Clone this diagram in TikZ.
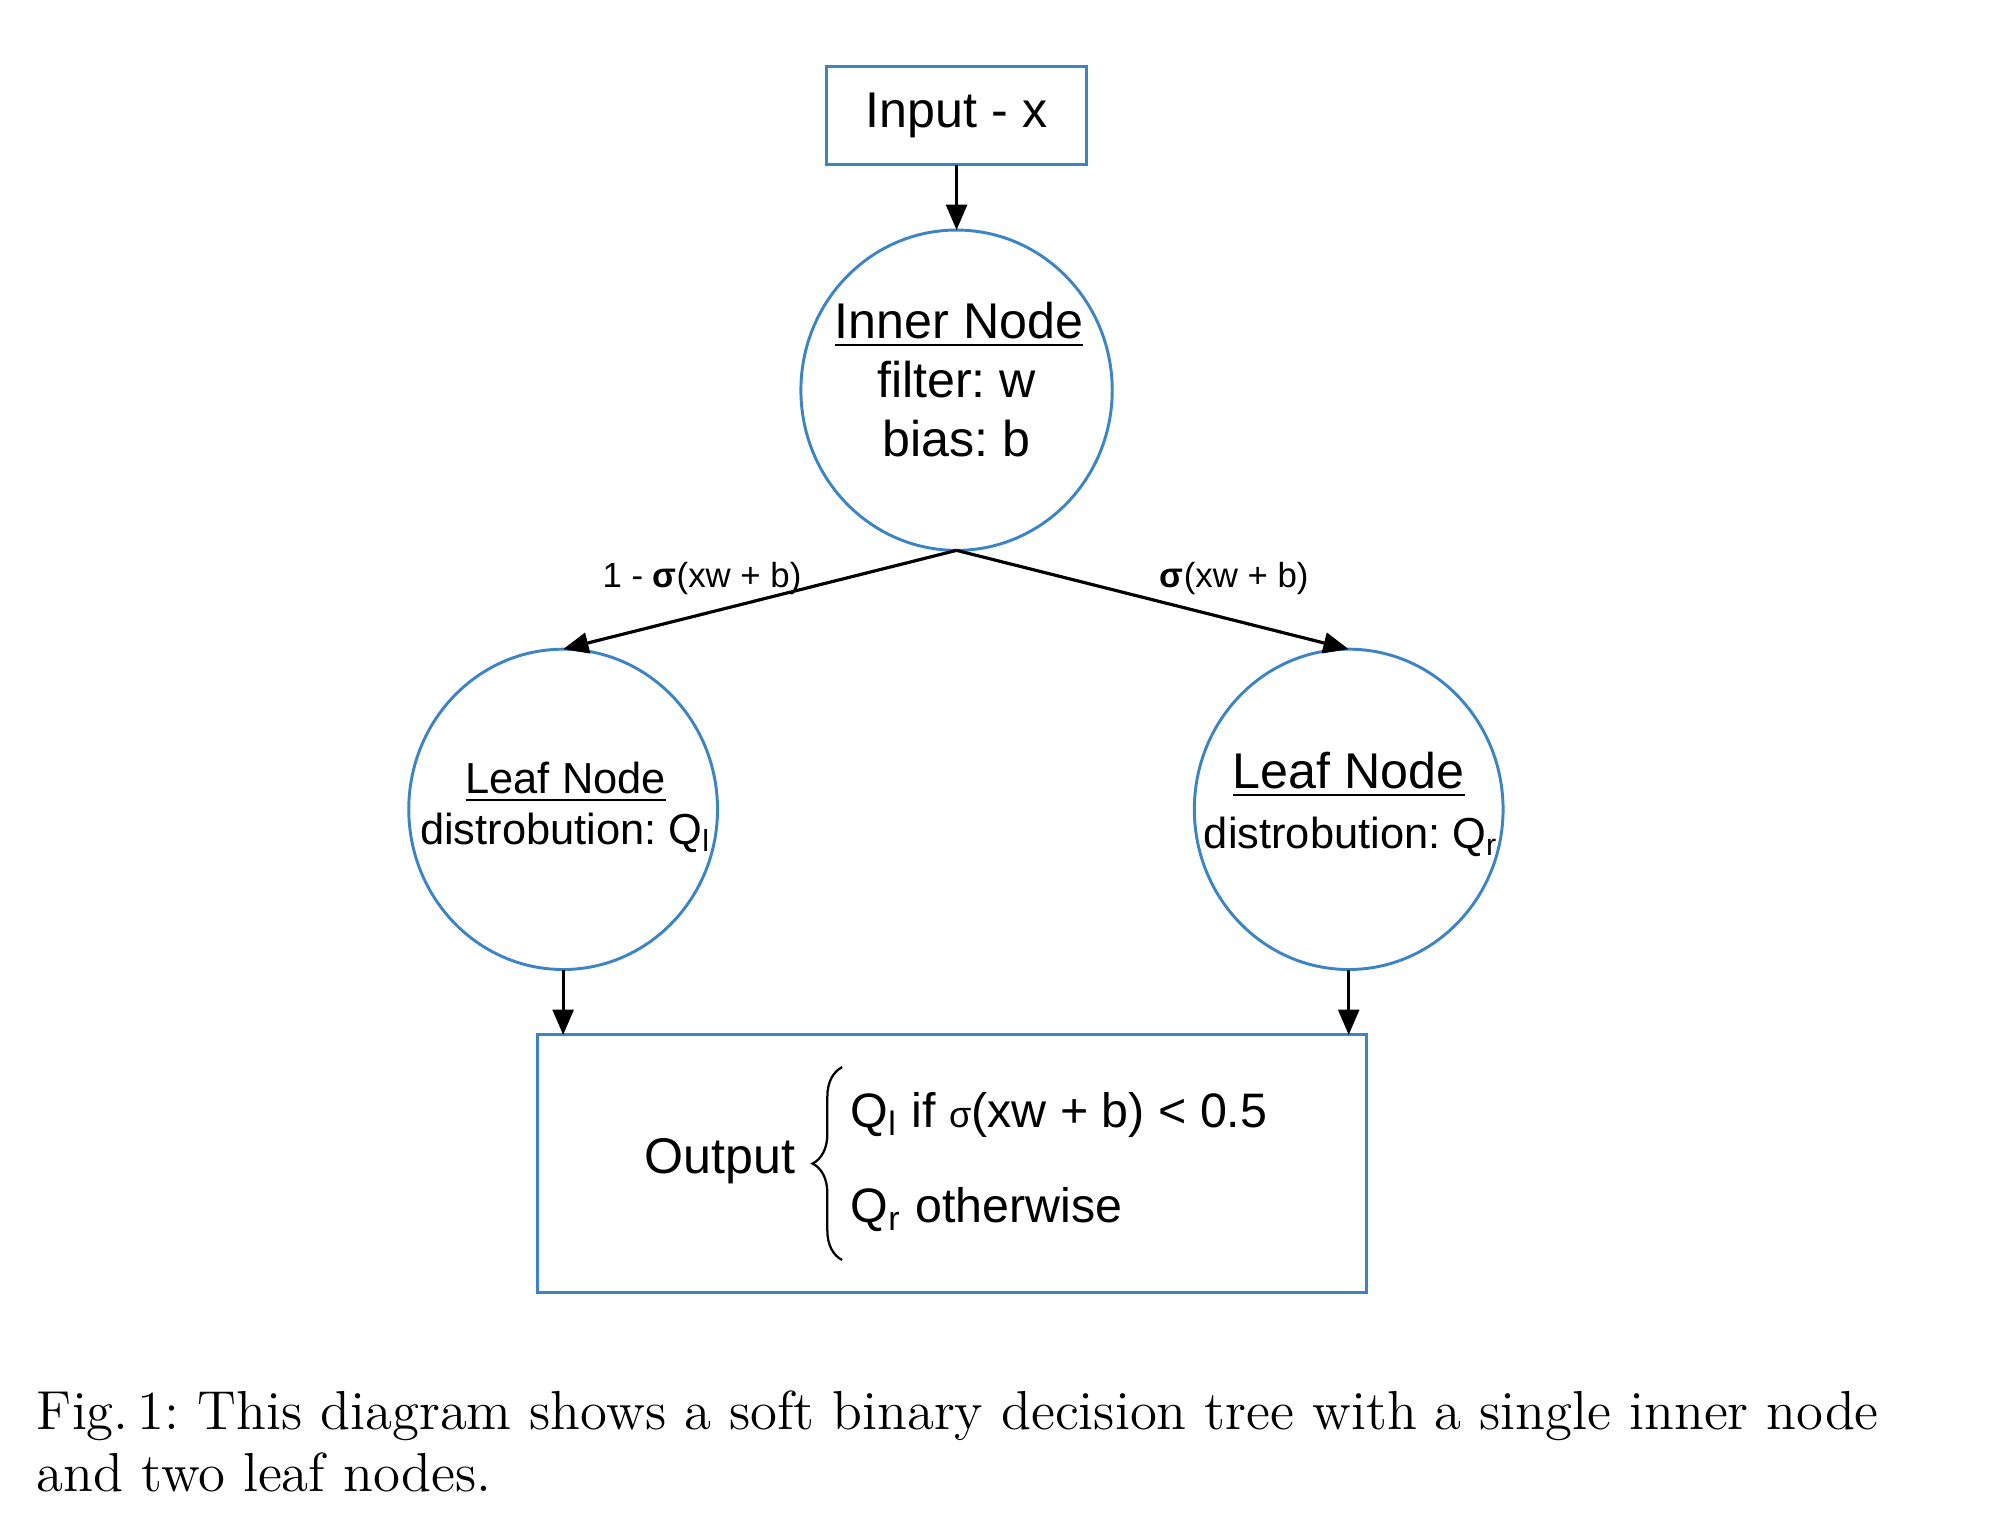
\documentclass[tikz,border=0pt]{standalone}
\usepackage{fontspec}
\setsansfont{Liberation Sans}
\usepackage{tikz}
\usepackage{color}
\usetikzlibrary{arrows.meta,shapes.geometric,decorations.pathreplacing}
\definecolor{lucidblue}{RGB}{60,132,196}
\frenchspacing

\begin{document}
\begin{tikzpicture}[%
      x=0.01cm, y=-0.01cm,
      box/.style={draw=lucidblue, line width=0.65pt, inner sep=0pt, outer sep=0pt},
      ball/.style={box, ellipse, minimum width=2.40cm, minimum height=2.49cm},
      link/.style={color=black, line width=0.7pt, -{Triangle[length=5.6pt,width=4.6pt]}},
      bigtext/.style={font=\sffamily\fontsize{11.1}{13}\selectfont},
      casetext/.style={font=\sffamily\fontsize{10.7}{13}\selectfont, anchor=base west, inner sep=0pt},
      midtext/.style={font=\sffamily\fontsize{9.6}{11.5}\selectfont},
      edgetext/.style={font=\sffamily\fontsize{7.7}{9}\selectfont},
      captext/.style={font=\rmfamily\fontsize{12.15}{13.6}\selectfont, anchor=base west, inner sep=0pt},
      ]
      \useasboundingbox (0,0) rectangle (1568,1188);

      \node [box, minimum width=2.02cm, minimum height=0.76cm, bigtext] (input) at (744,90) {Input - x};
      \node [ball, minimum width=2.42cm] (inner) at (744,303.5) {};
      \node [ball] (leafl) at (438,629.5) {};
      \node [ball] (leafr) at (1049,629.5) {};
      \node [box, minimum width=6.45cm, minimum height=2.00cm] (output) at (740.5,905) {};

      \node [bigtext, anchor=base] (innertitle) at (746,263) {\underline{Inner Node}};
      \node [bigtext, anchor=base] (innerw) at (744,309.5) {filter: w};
      \node [bigtext, anchor=base] (innerb) at (744,355) {bias: b};

      \node [midtext, anchor=base] (lefttitle) at (440,617) {\underline{Leaf Node}};
      \node [midtext, anchor=base] (leftdist) at (440,657) {distrobution: Q\textsubscript{l}};
      \node [bigtext, anchor=base] (righttitle) at (1049,613) {\underline{Leaf Node}};
      \node [midtext, anchor=base] (rightdist) at (1051,660) {distrobution: Q\textsubscript{r}};

      \draw [link] (input.south) -- (inner.north);
      \draw [link] (inner.south) -- (leafl.north);
      \draw [link] (inner.south) -- (leafr.north);
      \draw [link] (leafl.south) -- (leafl.south |- output.north);
      \draw [link] (leafr.south) -- (leafr.south |- output.north);

      \node [edgetext, anchor=base] (leftprob) at (546,457) {1 - \textbf{σ}(xw + b)};
      \node [edgetext, anchor=base] (rightprob) at (960,457) {\textbf{σ}(xw + b)};

      \node [bigtext, anchor=base] (outname) at (560,913) {Output};
      \coordinate (bracebot) at (655,980);
      \coordinate (bracetop) at (655,830);
      \draw [line width=0.5pt, decorate, decoration={brace, amplitude=0.23cm}] (bracebot) -- (bracetop);
      \node [casetext] (outleft) at (661,877) {Q\textsubscript{l} if {\fontsize{8}{8}\selectfont σ}(xw + b) < 0.5};
      \node [casetext] (outright) at (661,951) {Q\textsubscript{r} otherwise};

      \node [captext] (caption) at (28,1112) {Fig.\,1: This diagram shows a soft binary decision tree with a single inner node};
      \node [captext] (captail) at (28,1160) {and two leaf nodes.};
\end{tikzpicture}
\end{document}
